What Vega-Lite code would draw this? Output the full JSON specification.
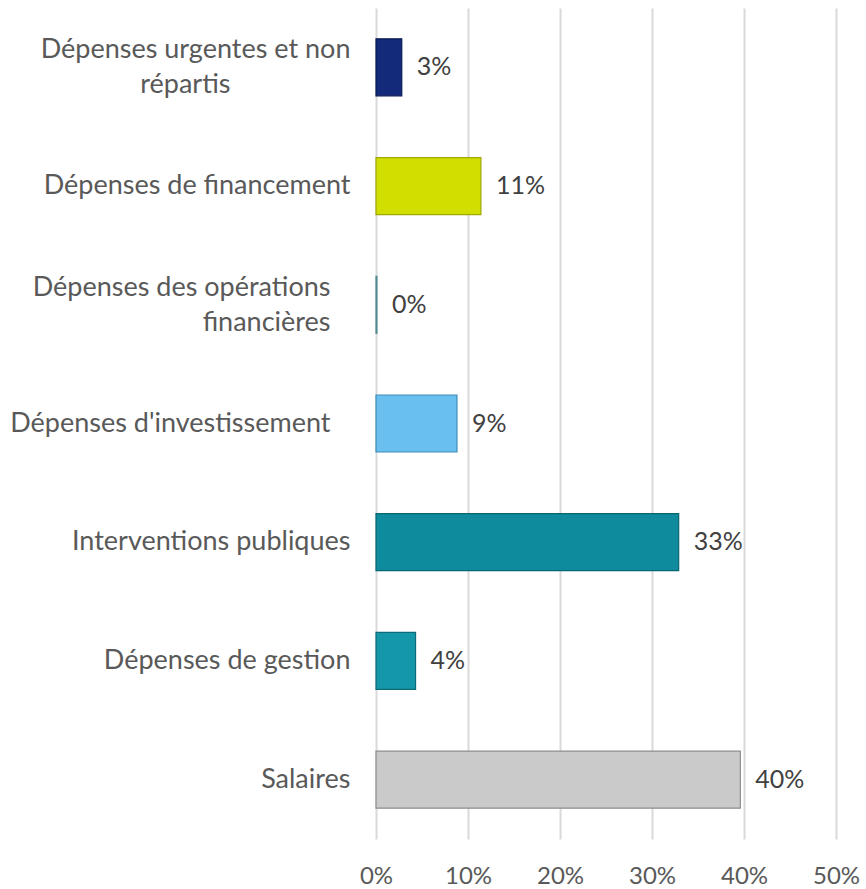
{
  "$schema": "https://vega.github.io/schema/vega-lite/v6.json",
  "width": 460,
  "height": 831,
  "autosize": "none",
  "padding": {"left": 376, "top": 8, "right": 30, "bottom": 50},
  "background": "white",
  "config": {
    "view": {"stroke": null},
    "font": "Lato",
    "axis": {"labelFont": "Lato", "labelColor": "#595959"}
  },
  "data": {
    "values": [
      {"cat": "Dépenses urgentes et non répartis", "v": 0.028},
      {"cat": "Dépenses de financement", "v": 0.114},
      {"cat": "Dépenses des opérations financières", "v": 0.001},
      {"cat": "Dépenses d'investissement", "v": 0.088},
      {"cat": "Interventions publiques", "v": 0.329},
      {"cat": "Dépenses de gestion", "v": 0.043},
      {"cat": "Salaires", "v": 0.396}
    ]
  },
  "encoding": {
    "y": {
      "field": "cat",
      "type": "nominal",
      "sort": null,
      "scale": {"paddingInner": 0.52, "paddingOuter": 0.26},
      "axis": {
        "title": null,
        "domain": false,
        "ticks": false,
        "grid": false,
        "labelFontSize": 27,
        "labelPadding": 26,
        "labelLineHeight": 35,
        "labelLimit": 400,
        "labelOffset": {"condition": {"test": "indexof(datum.value, 'répartis') >= 0 || indexof(datum.value, 'financières') >= 0", "value": -17}, "value": 0},
        "labelExpr": "datum.value == 'Dépenses urgentes et non répartis' ? ['Dépenses urgentes et non', 'répartis\u2800\u2800\u2800\u2800\u2800\u2800'] : datum.value == 'Dépenses des opérations financières' ? ['Dépenses des opérations\u2800', 'financières\u2800'] : datum.value == \"Dépenses d'investissement\" ? \"Dépenses d'investissement\u2800\" : datum.value"
      }
    },
    "x": {
      "field": "v",
      "type": "quantitative",
      "scale": {"domain": [0, 0.5], "nice": false},
      "axis": {
        "title": null,
        "format": ".0%",
        "values": [0, 0.1, 0.2, 0.3, 0.4, 0.5],
        "domain": false,
        "ticks": false,
        "grid": true,
        "gridColor": "#D9D9D9",
        "gridWidth": 2,
        "labelFontSize": 24,
        "labelPadding": 25,
        "labelFlush": false
      }
    }
  },
  "layer": [
    {
      "mark": {"type": "bar", "strokeWidth": 1.2},
      "encoding": {
        "color": {
          "field": "cat",
          "type": "nominal",
          "legend": null,
          "scale": {
            "domain": ["Dépenses urgentes et non répartis", "Dépenses de financement", "Dépenses des opérations financières", "Dépenses d'investissement", "Interventions publiques", "Dépenses de gestion", "Salaires"],
            "range": ["#13297A", "#D2DE00", "#1E8A96", "#69BFEF", "#0E8B9C", "#1497A8", "#C9CAC9"]
          }
        },
        "stroke": {
          "field": "cat",
          "type": "nominal",
          "legend": null,
          "scale": {
            "domain": ["Dépenses urgentes et non répartis", "Dépenses de financement", "Dépenses des opérations financières", "Dépenses d'investissement", "Interventions publiques", "Dépenses de gestion", "Salaires"],
            "range": ["#0A1A55", "#9EA800", "#4F8A90", "#3E8CB8", "#0A6673", "#0C6B78", "#8C8C8C"]
          }
        }
      }
    },
    {
      "mark": {"type": "text", "align": "left", "baseline": "middle", "dx": 15, "font": "Lato", "fontSize": 25, "color": "#404040"},
      "encoding": {
        "text": {"field": "v", "type": "quantitative", "format": ".0%"}
      }
    }
  ]
}
